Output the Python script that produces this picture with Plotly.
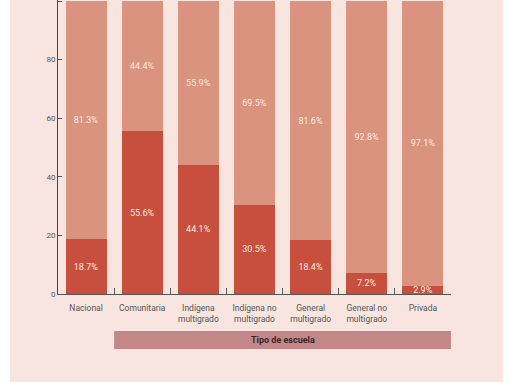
import plotly.graph_objects as go

categories = ["Nacional", "Comunitaria", "Indígena<br>multigrado", "Indígena no<br>multigrado",
              "General<br>multigrado", "General no<br>multigrado", "Privada"]
dark_values = [18.7, 55.6, 44.1, 30.5, 18.4, 7.2, 2.9]
light_values = [81.3, 44.4, 55.9, 69.5, 81.6, 92.8, 97.1]
y_ticks = [0, 20, 40, 60, 80, 100]
axis_title = "Tipo de escuela"

FONT = "Roboto, Lato, sans-serif"
DARK = "#c84f3e"
LIGHT = "#da937e"
BG = "#f8e5df"

fig = go.Figure()
fig.add_trace(go.Bar(
    x=categories, y=dark_values, marker=dict(color=DARK, line=dict(width=0)),
    text=[f"{v}%" for v in dark_values], textposition="inside", insidetextanchor="middle",
    constraintext="none", textfont=dict(color="#fbeae3", size=9, family=FONT),
    showlegend=False, hoverinfo="skip"))
fig.add_trace(go.Bar(
    x=categories, y=light_values, marker=dict(color=LIGHT, line=dict(width=0)),
    text=[f"{v}%" for v in light_values], textposition="inside", insidetextanchor="middle",
    constraintext="none", textfont=dict(color="#fbeae3", size=9, family=FONT),
    showlegend=False, hoverinfo="skip"))

fig.update_layout(
    width=510, height=382,
    margin=dict(l=58, r=59, t=0, b=88),
    barmode="stack", bargap=0.27,
    paper_bgcolor=BG, plot_bgcolor=BG,
    font=dict(family=FONT, color="#555555", size=9),
    xaxis=dict(showline=True, linecolor="#555555", linewidth=1,
               ticks="inside", tickson="boundaries", ticklen=6, tickcolor="#555555",
               tickangle=0, ticklabelstandoff=6,
               tickfont=dict(size=8.5, color="#555555", family=FONT),
               showgrid=False, zeroline=False, fixedrange=True),
    yaxis=dict(range=[0, 100.35], tickvals=y_ticks, showline=True, linecolor="#444444",
               linewidth=1, ticks="inside", ticklen=4, tickcolor="#555555",
               tickfont=dict(size=8, color="#555555", family=FONT),
               showgrid=False, zeroline=False, fixedrange=True),
    shapes=[
        dict(type="rect", xref="paper", yref="paper", x0=-0.3, x1=-0.122, y0=-0.4, y1=1.1,
             fillcolor="white", line=dict(width=0), layer="below"),
        dict(type="rect", xref="paper", yref="paper", x0=1.132, x1=1.3, y0=-0.4, y1=1.1,
             fillcolor="white", line=dict(width=0), layer="below"),
        dict(type="rect", xref="x", yref="paper", x0=0.5, x1=6.5, y0=-0.187, y1=-0.126,
             fillcolor="#c3878a", line=dict(width=0)),
    ],
    annotations=[
        dict(text=f"<b>{axis_title}</b>", xref="x", yref="paper", x=3.5, y=-0.1565,
             showarrow=False, font=dict(size=9, color="#3a2626", family=FONT),
             xanchor="center", yanchor="middle"),
    ],
)

fig.write_html("out.html", config={"displayModeBar": False, "staticPlot": True},
               post_script="document.body.style.margin='0';document.body.style.overflow='hidden';")
